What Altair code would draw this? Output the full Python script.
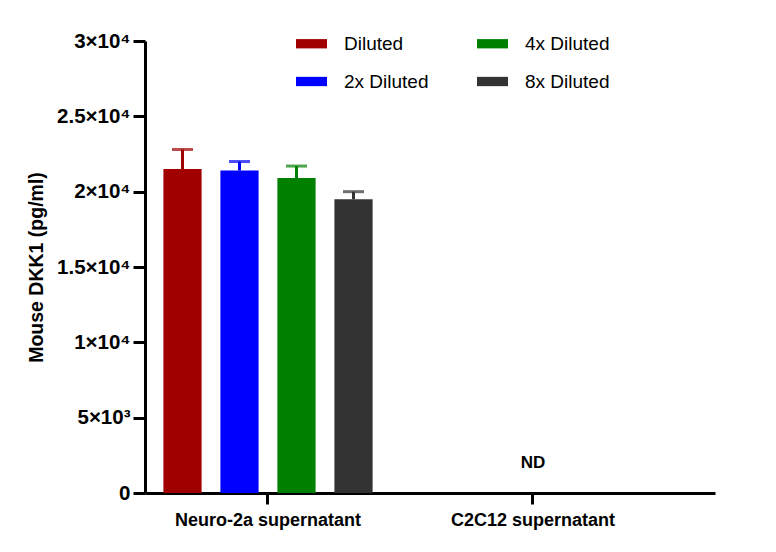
import altair as alt
import pandas as pd

# Samples on the x axis and the four dilutions drawn in each group
samples = ["Neuro-2a supernatant", "C2C12 supernatant"]
dilutions = ["Diluted", "2x Diluted", "4x Diluted", "8x Diluted"]
dilution_colors = ["#a00000", "#0000ff", "#008000", "#333333"]

# Measured concentrations (pg/ml) and their error bars
means = [21500, 21400, 20900, 19500]
errors = [1300, 600, 800, 500]

# Not-detected annotation for the second sample
nd_samples = ["C2C12 supernatant"]
nd_texts = ["ND"]
nd_y = [2000]

# Y axis ticks with scientific labels
y_ticks = [0, 5000, 10000, 15000, 20000, 25000, 30000]
y_tick_labels = ["0", "5×10³", "1×10⁴", "1.5×10⁴", "2×10⁴", "2.5×10⁴", "3×10⁴"]

FONT = "Liberation Sans"

df = pd.DataFrame({
    "sample": [samples[0]] * len(dilutions),
    "dilution": dilutions,
    "mean": means,
    "err": errors,
})
df["upper"] = df["mean"] + df["err"]

nd_df = pd.DataFrame({"sample": nd_samples, "label": nd_texts, "y": nd_y})

label_expr = "''"
for v, t in reversed(list(zip(y_ticks, y_tick_labels))):
    label_expr = f"datum.value == {v} ? '{t}' : ({label_expr})"

x_enc = alt.X(
    "sample:N",
    scale=alt.Scale(domain=samples, paddingInner=0.1, paddingOuter=0.1255, align=0.0564),
    axis=alt.Axis(title=None, labelAngle=0),
)
xoff_enc = alt.XOffset(
    "dilution:N",
    scale=alt.Scale(domain=dilutions, paddingInner=0.33, paddingOuter=0.257),
)
y_scale = alt.Scale(domain=[0, 30000], nice=False)

bars = alt.Chart(df).mark_bar().encode(
    x=x_enc,
    xOffset=xoff_enc,
    y=alt.Y(
        "mean:Q",
        scale=y_scale,
        axis=alt.Axis(title="Mouse DKK1 (pg/ml)", values=y_ticks, labelExpr=label_expr, grid=False),
    ),
    fill=alt.Fill(
        "dilution:N",
        scale=alt.Scale(domain=dilutions, range=dilution_colors),
        legend=alt.Legend(
            title=None, orient="none", legendX=151, legendY=-13, columns=2,
            symbolType="M-1,-0.3L1,-0.3L1,0.3L-1,0.3Z", symbolSize=961,
            symbolStrokeWidth=0, labelFontSize=19, labelFont=FONT,
            labelOffset=17, rowPadding=12, columnPadding=48,
        ),
    ),
)

whiskers = alt.Chart(df).mark_rule(strokeWidth=3).encode(
    x=x_enc,
    xOffset=xoff_enc,
    y=alt.Y("mean:Q", scale=y_scale),
    y2="upper:Q",
    stroke=alt.Stroke("dilution:N", scale=alt.Scale(domain=dilutions, range=dilution_colors), legend=None),
)

caps = alt.Chart(df).mark_tick(thickness=3, size=21).encode(
    x=x_enc,
    xOffset=xoff_enc,
    y=alt.Y("upper:Q", scale=y_scale),
    color=alt.Color("dilution:N", scale=alt.Scale(domain=dilutions, range=dilution_colors), legend=None),
)

nd_text = alt.Chart(nd_df).mark_text(
    fontSize=17, fontWeight="bold", font=FONT, color="black"
).encode(
    x=x_enc,
    y=alt.Y("y:Q", scale=y_scale),
    text="label:N",
)

chart = (
    alt.layer(bars, whiskers, caps, nd_text)
    .properties(
        width=570, height=452,
        autosize=alt.AutoSizeParams(type="none"),
        padding={"left": 145, "top": 41, "right": 61, "bottom": 59},
    )
    .configure_view(stroke=None)
    .configure_axis(domainColor="black", domainWidth=3, tickColor="black", tickWidth=3,
                    labelColor="black", titleColor="black", labelFont=FONT, titleFont=FONT,
                    labelFontWeight="bold", titleFontWeight="bold", grid=False, labelLimit=400)
    .configure_axisX(labelFontSize=18, tickSize=11, labelPadding=7)
    .configure_axisY(labelFontSize=20.5, tickSize=12, labelPadding=3,
                     titleFontSize=19.5, titlePadding=10)
    .configure_legend(labelColor="black")
)

chart.save("out.html", embed_options={"renderer": "svg", "actions": False})
